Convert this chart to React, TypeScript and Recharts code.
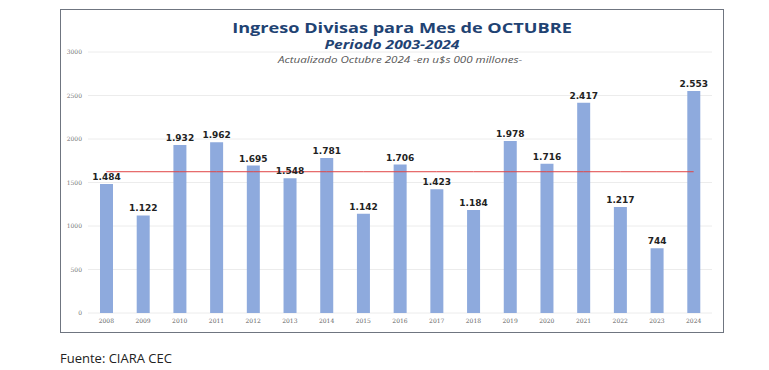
import { ComposedChart, Bar, Line, XAxis, YAxis, CartesianGrid, LabelList } from "recharts";

const years = ["2008", "2009", "2010", "2011", "2012", "2013", "2014", "2015", "2016", "2017", "2018", "2019", "2020", "2021", "2022", "2023", "2024"];
const ingreso = [1484, 1122, 1932, 1962, 1695, 1548, 1781, 1142, 1706, 1423, 1184, 1978, 1716, 2417, 1217, 744, 2553];
const yTicks = [0, 500, 1000, 1500, 2000, 2500, 3000];

const promedio = ingreso.reduce((a, b) => a + b, 0) / ingreso.length;

const data = years.map((year, i) => ({ year, ingreso: ingreso[i], promedio }));

// 1484 -> "1.484"
const fmt = (v: number) => String(v).replace(/\B(?=(\d{3})+(?!\d))/g, ".");

const line = { position: "absolute" as const, left: 0, width: "100%", textAlign: "center" as const, transformOrigin: "50% 50%" };

export default function App() {
  return (
    <div style={{ position: "absolute", left: 0, top: 0, width: 769, height: 370, background: "#fff", fontFamily: "'Open Sans', sans-serif" }}>
      <div style={{ position: "absolute", left: 60, top: 9, width: 662, height: 322, border: "1.5px solid #6f7580" }}>
        <div style={{ ...line, left: 10, top: 10.5, color: "#1f4373", fontWeight: 700, fontSize: 14.5, lineHeight: "14px", transform: "scaleX(1.25)" }}>
          Ingreso Divisas para Mes de OCTUBRE
        </div>
        <div style={{ ...line, top: 28.5, color: "#1f4373", fontWeight: 700, fontStyle: "italic", fontSize: 12.5, lineHeight: "12px", transform: "scaleX(1.25)" }}>
          Periodo 2003-2024
        </div>
        <div style={{ ...line, left: 8, top: 44.5, color: "#555", fontStyle: "italic", fontSize: 9.5, lineHeight: "9px", transform: "scaleX(1.22)" }}>
          Actualizado Octubre 2024 -en u$s 000 millones-
        </div>
        <div style={{ position: "absolute", left: 0, top: 0 }}>
          <ComposedChart width={662} height={322} data={data} margin={{ top: 42, right: 11, bottom: 5, left: 0 }} barCategoryGap="0%">
            <CartesianGrid horizontal vertical={false} stroke="#ececec" />
            <XAxis dataKey="year" axisLine={false} tickLine={false} tickSize={4} tickMargin={2} height={14} interval={0} tick={{ fontSize: 6, fill: "#666", fontFamily: "DejaVu Serif" }} />
            <YAxis domain={[0, 3000]} ticks={yTicks} axisLine={false} tickLine={false} tickSize={4} tickMargin={2} width={27} tick={{ fontSize: 6, fill: "#777", fontFamily: "DejaVu Serif" }} />
            <Bar dataKey="ingreso" fill="#8eaadd" barSize={13} isAnimationActive={false}>
              <LabelList dataKey="ingreso" position="top" offset={4} formatter={(v: any) => fmt(Number(v))} style={{ fontSize: 9, fontWeight: 700, fill: "#222", fontFamily: "DejaVu Sans" }} />
            </Bar>
            <Line dataKey="promedio" stroke="#e04545" strokeWidth={1} dot={false} activeDot={false} isAnimationActive={false} />
          </ComposedChart>
        </div>
      </div>
      <div style={{ position: "absolute", left: 60, top: 349, fontSize: 13, color: "#222" }}>Fuente: CIARA CEC</div>
    </div>
  );
}
